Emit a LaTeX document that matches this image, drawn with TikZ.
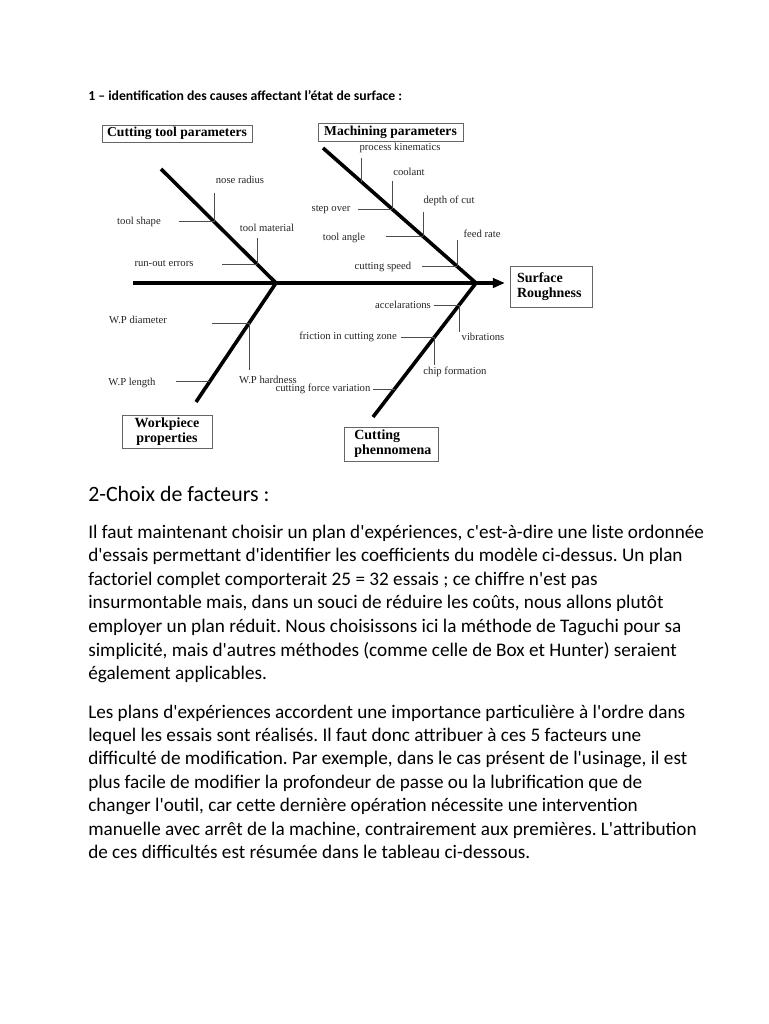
\documentclass[tikz,border=0pt]{standalone}
\usepackage{fontspec}
\newfontfamily\calibri{Carlito}
\newfontfamily\tnr{Liberation Serif}
\usetikzlibrary{arrows.meta}
\frenchspacing

\begin{document}
\begin{tikzpicture}[x=0.75pt, y=-0.75pt,
  bone/.style={line width=2.7pt},
  twig/.style={line width=0.6pt, black!70},
  cause/.style={font=\tnr\fontsize{8}{9.5}\selectfont, inner sep=0pt,
                text=black!85},
  famille/.style={draw=black!60, line width=0.6pt, inner sep=0pt,
                  font=\tnr\bfseries\fontsize{10.2}{11.5}\selectfont},
  bloc/.style={famille, align=left, inner ysep=0pt,
               font=\tnr\bfseries\fontsize{10.5}{11.25}\selectfont},
  corps/.style={anchor=base west, inner sep=0pt,
                font=\calibri\fontsize{14.4}{17.7}\selectfont}
]
  \useasboundingbox (0,0) rectangle (768,1024);
  \fill[white] (0,0) rectangle (768,1024);

  % Titre
  \node[corps, font=\calibri\bfseries\fontsize{10.3}{12}\selectfont] (titre)
    at (88,100) {1 – identification des causes affectant l’état de surface :};

  % Arete principale et effet
  \coordinate (queue) at (133,283);
  \coordinate (noeud-g) at (276,283);
  \coordinate (noeud-d) at (476,283);
  \node[bloc, text width=51pt, inner xsep=5.25pt, minimum height=30.75pt]
    (effet) at (551,286.5) {Surface\\Roughness};
  \draw[bone, -{Triangle[length=9pt, width=7pt]}, shorten >=3.5pt]
    (queue) -- (queue -| effet.west);

  % Familles de causes
  \node[famille, minimum width=112.5pt, minimum height=12.75pt] (outil)
    at (177,133.5) {Cutting tool parameters};
  \node[famille, minimum width=108.75pt, minimum height=13.5pt] (usinage)
    at (390.5,132) {Machining parameters};
  \node[bloc, align=center, minimum width=67.5pt, minimum height=24.75pt]
    (piece) at (167,431.5) {Workpiece\\properties};
  \node[bloc, text width=55pt, inner xsep=7.75pt, minimum height=25.5pt]
    (coupe) at (391,444) {Cutting\\phennomena};

  % Aretes obliques
  \coordinate (os-outil) at (161,169);
  \coordinate (os-usinage) at (323,148);
  \coordinate (os-piece) at (196,402);
  \coordinate (os-coupe) at (373,417);
  \draw[bone] (os-outil) -- (noeud-g) -- (os-piece);
  \draw[bone] (os-usinage) -- (noeud-d) -- (os-coupe);

  % Petites aretes
  \foreach \nom/\jx/\jy/\fx/\fy in {
    nez/214/221.5/214/193, forme/214/221.5/179/221.5,
    matiere/257/264/257/238, faux-rond/257/264/222/264,
    cinematique/361/181.5/361/158, lubrif/392/209/392/181,
    pas/392/209/358/209, profondeur/423/236/423/212,
    angle/423/236/386/236, avance/457/266/457/240,
    vitesse/457/266/422/266, accel/459/305/434/305,
    vibr/459/305/459/332, frottement/434.5/337/401/337,
    copeau/434.5/337/434.5/365, effort/394.5/389/373/389,
    diametre/249/323/212/323, durete/249/323/249/370,
    longueur/210/381/176/381} {
    \coordinate (j-\nom) at (\jx,\jy);
    \coordinate (f-\nom) at (\fx,\fy);
    \draw[twig] (j-\nom) -- (f-\nom);
  }

  % Causes
  \foreach \nom/\x/\y/\texte in {
    nez/240/180/nose radius, forme/139/222/tool shape,
    matiere/267/228/tool material, faux-rond/164/264/run-out errors,
    cinematique/400/148/process kinematics, lubrif/409/172/coolant,
    pas/331/210/step over, profondeur/449/201/depth of cut,
    angle/344/238/tool angle, avance/482/234/feed rate,
    vitesse/383/267/cutting speed, accel/403/305/accelarations,
    vibr/483/337/vibrations, frottement/348/337/friction in cutting zone,
    copeau/455/372/chip formation, effort/323/389/cutting force variation,
    diametre/138/320/W.P diameter, durete/268/380/W.P hardness,
    longueur/132/383/W.P length}
    \node[cause] (c-\nom) at (\x,\y) {\texte};

  % Section 2
  \node[corps, font=\calibri\fontsize{16.4}{20}\selectfont] (section)
    at (88,501) {2-Choix de facteurs :};

  \foreach \ligne [count=\i from 0] in {
    {Il faut maintenant choisir un plan d'expériences, c'est-à-dire une liste ordonnée},
    {d'essais permettant d'identifier les coefficients du modèle ci-dessus. Un plan},
    {factoriel complet comporterait 25 = 32 essais ; ce chiffre n'est pas},
    {insurmontable mais, dans un souci de réduire les coûts, nous allons plutôt},
    {employer un plan réduit. Nous choisissons ici la méthode de Taguchi pour sa},
    {simplicité, mais d'autres méthodes (comme celle de Box et Hunter) seraient},
    {également applicables.}}
    \node[corps] (par1-\i) at (88,{538+\i*23.65}) {\ligne};

  \foreach \ligne [count=\i from 0] in {
    {Les plans d'expériences accordent une importance particulière à l'ordre dans},
    {lequel les essais sont réalisés. Il faut donc attribuer à ces 5 facteurs une},
    {difficulté de modification. Par exemple, dans le cas présent de l'usinage, il est},
    {plus facile de modifier la profondeur de passe ou la lubrification que de},
    {changer l'outil, car cette dernière opération nécessite une intervention},
    {manuelle avec arrêt de la machine, contrairement aux premières. L'attribution},
    {de ces difficultés est résumée dans le tableau ci-dessous.}}
    \node[corps] (par2-\i) at (88,{718+\i*23.4}) {\ligne};
\end{tikzpicture}
\end{document}
